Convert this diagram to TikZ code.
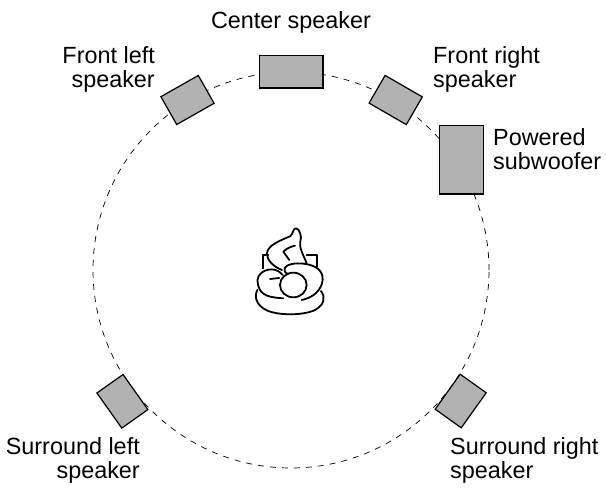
\documentclass[tikz,border=0pt]{standalone}
\usepackage{fontspec}
\setmainfont{Liberation Sans}
\tikzset{
  spk/.style={draw=black,fill=black!30,line width=1.2pt,inner sep=0pt,minimum width=43pt,minimum height=32pt},
  lab/.style={inner sep=0pt,font=\fontsize{23.4}{24}\selectfont},
  fig/.style={draw=black,line width=1.8pt,line join=round,line cap=round}
}
\begin{document}
\begin{tikzpicture}[x=1pt,y=-1pt]
\useasboundingbox (0,0) rectangle (606,495);
\coordinate (ctr) at (291,270);
\draw[line width=0.7pt,dash pattern=on 6pt off 6pt] (ctr) circle[radius=198pt];
\node[spk,minimum width=63.5pt,minimum height=32.5pt] (c) at (291.2,71.8) {};
\node[spk,rotate=29.6] (fl) at (187.5,100) {};
\node[spk,rotate=-30] (fr) at (395.7,100) {};
\node[spk,minimum width=44pt,minimum height=68.3pt] (sub) at (461.7,159.8) {};
\node[spk,rotate=-54.7] (sl) at (122.4,401.3) {};
\node[spk,rotate=54.5] (sr) at (460.7,401) {};
\node[lab,anchor=base] (tc) at (291,28.3) {Center speaker};
\node[lab,align=right,anchor=north east] (tfl) at (155,46.3) {Front left\\speaker};
\node[lab,align=left,anchor=north west] (tfr) at (433,46.3) {Front right\\speaker};
\node[lab,align=left,anchor=north west] (tsub) at (493,128) {Powered\\subwoofer};
\node[lab,align=right,anchor=north east] (tsl) at (140,437) {Surround left\\speaker};
\node[lab,align=left,anchor=north west] (tsr) at (450,437) {Surround right\\speaker};
% listener
\begin{scope}[shift={(240,225)},x=0.3333pt,y=-0.3333pt]
\draw[fig] (52,195) .. controls (42,215) and (48,240) .. (80,256) .. controls (115,272) and (190,272) .. (225,255) .. controls (252,240) and (258,218) .. (243,198);
\draw[fig] (128,150) .. controls (112,130) and (85,128) .. (65,143) .. controls (48,155) and (50,175) .. (60,195) .. controls (72,215) and (100,218) .. (130,220);
\draw[fig] (185,225) .. controls (220,218) and (245,195) .. (248,165) .. controls (250,135) and (225,120) .. (190,116) .. controls (165,113) and (140,118) .. (135,128) .. controls (132,138) and (135,145) .. (145,147);
\draw[fig] (160,180) ellipse[x radius=40,y radius=37];
\draw[fig] (126,135) .. controls (100,125) and (80,105) .. (81,85) .. controls (82,60) and (125,45) .. (150,34) .. controls (160,28) and (158,10) .. (168,10) .. controls (180,12) and (186,35) .. (181,50) .. controls (176,65) and (190,90) .. (200,115);
\draw[fig] (148,105) -- (130,80) .. controls (140,70) and (152,65) .. (165,62);
\draw[fig] (90,162) -- (118,159);
\draw[fig] (68,130) -- (68,90) -- (85,90);
\draw[fig] (200,90) -- (232,90) -- (232,125);
\end{scope}
\end{tikzpicture}
\end{document}
